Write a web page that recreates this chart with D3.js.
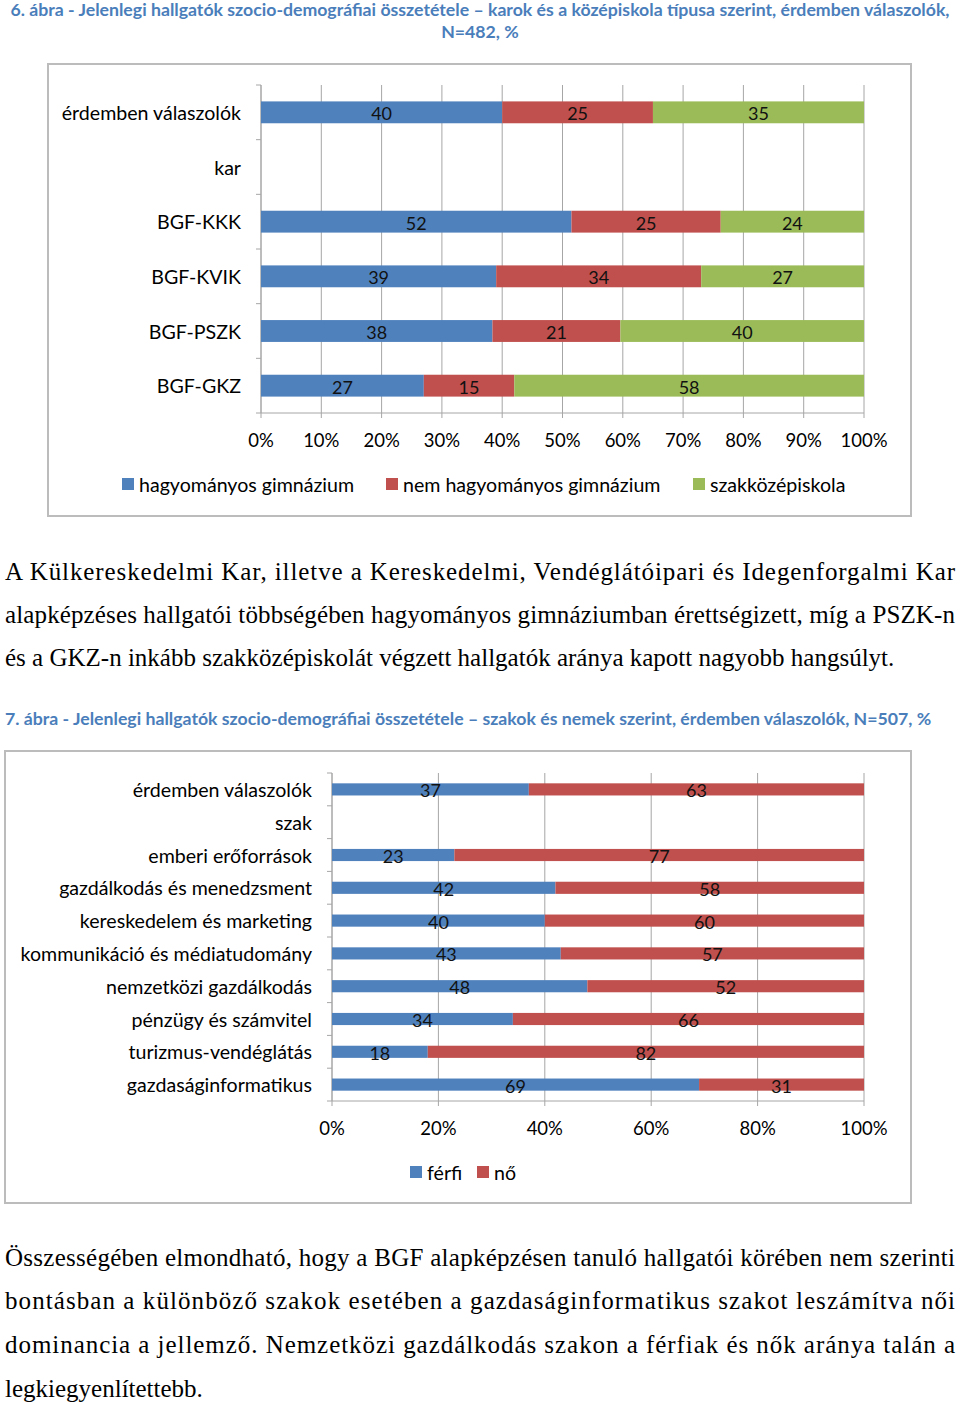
<!DOCTYPE html>
<html>
<head>
<meta charset="utf-8">
<script src="https://cdn.jsdelivr.net/npm/d3@7"></script>
<style>
  body { margin: 0; background: #fff; }
  svg { display: block; }
  .cat { font-family: Lato, "Open Sans", sans-serif; font-size: 19.6px; fill: #000; }
  .tick { font-family: Lato, "Open Sans", sans-serif; font-size: 18.5px; fill: #000; }
  .val { font-family: Lato, "Open Sans", sans-serif; font-size: 18px; fill: #111; }
  .title { font-family: Lato, "Open Sans", sans-serif; font-weight: bold; font-size: 17.7px; fill: #4A7EBB; }
  .body { font-family: "Liberation Serif", "Times New Roman", serif; font-size: 25px; fill: #000; }
</style>
</head>
<body>
<svg id="page" width="960" height="1403"></svg>
<script>
// --- chart 1 data ---
const facultyCats = ["érdemben válaszolók", "kar", "BGF-KKK", "BGF-KVIK", "BGF-PSZK", "BGF-GKZ"];
const hagyomanyos = [40, null, 52, 39, 38, 27];
const nemHagyomanyos = [25, null, 25, 34, 21, 15];
const szakkozep = [35, null, 24, 27, 40, 58];
const schoolSeries = ["hagyományos gimnázium", "nem hagyományos gimnázium", "szakközépiskola"];
const ticks1 = [0, 10, 20, 30, 40, 50, 60, 70, 80, 90, 100];

// --- chart 2 data ---
const majorCats = ["érdemben válaszolók", "szak", "emberi erőforrások", "gazdálkodás és menedzsment",
  "kereskedelem és marketing", "kommunikáció és médiatudomány", "nemzetközi gazdálkodás",
  "pénzügy és számvitel", "turizmus-vendéglátás", "gazdaságinformatikus"];
const ferfi = [37, null, 23, 42, 40, 43, 48, 34, 18, 69];
const no = [63, null, 77, 58, 60, 57, 52, 66, 82, 31];
const genderSeries = ["férfi", "nő"];
const ticks2 = [0, 20, 40, 60, 80, 100];

const colors = ["#4F81BD", "#C0504D", "#9BBB59"];
const gridColor = "#a6a6a6";

const svg = d3.select("#page");
svg.append("rect").attr("width", 960).attr("height", 1403).attr("fill", "#fff");

const drawChart = (cfg) => {
  const { cats, series, names, frame, x0, x1, yTop, yBottom, barFrac, ticks, tickY, labelX, legendY, legend } = cfg;

  svg.append("rect")
    .attr("x", frame[0]).attr("y", frame[1])
    .attr("width", frame[2] - frame[0]).attr("height", frame[3] - frame[1])
    .attr("fill", "#fff").attr("stroke", "#bcbcbc").attr("stroke-width", 2);

  const x = d3.scaleLinear().domain([0, 1]).range([x0, x1]);
  const inner = 1 - barFrac;
  const y = d3.scaleBand().domain(cats).range([yTop, yBottom]).paddingInner(inner).paddingOuter(inner / 2);
  const step = y.step();

  const rows = cats.map((c, i) => {
    const o = { cat: c };
    names.forEach((n, k) => { o[n] = series[k][i] == null ? 0 : series[k][i]; });
    return o;
  });
  const stacked = d3.stack().keys(names).offset(d3.stackOffsetExpand)(rows);

  const g = svg.append("g");

  // gridlines
  g.selectAll(".grid").data(ticks).enter().append("line")
    .attr("x1", (t) => x(t / 100)).attr("x2", (t) => x(t / 100))
    .attr("y1", yTop).attr("y2", yBottom + 5)
    .attr("stroke", gridColor).attr("stroke-width", 1);

  // bottom axis line
  g.append("line").attr("x1", x0).attr("x2", x1).attr("y1", yBottom).attr("y2", yBottom)
    .attr("stroke", gridColor).attr("stroke-width", 1);

  // left axis + ticks at band boundaries
  g.append("line").attr("x1", x0).attr("x2", x0).attr("y1", yTop).attr("y2", yBottom)
    .attr("stroke", gridColor).attr("stroke-width", 1);
  d3.range(cats.length + 1).forEach((i) => {
    g.append("line").attr("x1", x0 - 5).attr("x2", x0)
      .attr("y1", yTop + i * step).attr("y2", yTop + i * step)
      .attr("stroke", gridColor).attr("stroke-width", 1);
  });

  // bars
  stacked.forEach((layer, k) => {
    g.selectAll(null).data(layer.filter((d) => d.data[names[k]] > 0)).enter().append("rect")
      .attr("x", (d) => x(d[0])).attr("width", (d) => x(d[1]) - x(d[0]))
      .attr("y", (d) => y(d.data.cat)).attr("height", y.bandwidth())
      .attr("fill", colors[k]);
    g.selectAll(null).data(layer.filter((d) => d.data[names[k]] > 0)).enter().append("text")
      .attr("class", "val")
      .attr("x", (d) => (x(d[0]) + x(d[1])) / 2)
      .attr("y", (d) => y(d.data.cat) + y.bandwidth() / 2 + 1)
      .attr("text-anchor", "middle").attr("dominant-baseline", "central")
      .text((d) => d.data[names[k]]);
  });

  // category labels
  g.selectAll(".catl").data(cats).enter().append("text")
    .attr("class", "cat")
    .attr("x", labelX).attr("y", (c) => y(c) + y.bandwidth() / 2)
    .attr("text-anchor", "end").attr("dominant-baseline", "central")
    .text((c) => c);

  // tick labels
  g.selectAll(".tl").data(ticks).enter().append("text")
    .attr("class", "tick")
    .attr("x", (t) => x(t / 100)).attr("y", tickY)
    .attr("text-anchor", "middle").attr("dominant-baseline", "central")
    .text((t) => t + "%");

  // legend
  names.forEach((n, k) => {
    g.append("rect").attr("x", legend[k]).attr("y", legendY - 6).attr("width", 12).attr("height", 12)
      .attr("fill", colors[k]);
    g.append("text").attr("class", "cat")
      .attr("x", legend[k] + 17).attr("y", legendY)
      .attr("dominant-baseline", "central").text(n);
  });
};

// titles
svg.append("text").attr("class", "title").attr("x", 480).attr("y", 9).attr("text-anchor", "middle")
  .attr("dominant-baseline", "central")
  .text("6. ábra - Jelenlegi hallgatók szocio-demográfiai összetétele – karok és a középiskola típusa szerint, érdemben válaszolók,");
svg.append("text").attr("class", "title").attr("x", 480).attr("y", 31).attr("text-anchor", "middle")
  .attr("dominant-baseline", "central").text("N=482, %");

drawChart({
  cats: facultyCats, series: [hagyomanyos, nemHagyomanyos, szakkozep], names: schoolSeries,
  frame: [48, 64, 911, 516], x0: 261, x1: 864, yTop: 85, yBottom: 413, barFrac: 0.4,
  ticks: ticks1, tickY: 440, labelX: 241, legendY: 484, legend: [122, 386, 693]
});

// body paragraph 1
const para1 = [
  "A Külkereskedelmi Kar, illetve a Kereskedelmi, Vendéglátóipari és Idegenforgalmi Kar",
  "alapképzéses hallgatói többségében hagyományos gimnáziumban érettségizett, míg a PSZK-n",
  "és a GKZ-n inkább szakközépiskolát végzett hallgatók aránya kapott nagyobb hangsúlyt."
];
const para2 = [
  "Összességében elmondható, hogy a BGF alapképzésen tanuló hallgatói körében nem szerinti",
  "bontásban a különböző szakok esetében a gazdaságinformatikus szakot leszámítva női",
  "dominancia a jellemző. Nemzetközi gazdálkodás szakon a férfiak és nők aránya talán a",
  "legkiegyenlítettebb."
];
const drawPara = (lines, top, lh) => {
  lines.forEach((l, i) => {
    const t = svg.append("text").attr("class", "body").attr("x", 5).attr("y", top + i * lh)
      .attr("dominant-baseline", "central").text(l);
    if (i < lines.length - 1) t.attr("textLength", 950).attr("lengthAdjust", "spacing");
  });
};
drawPara(para1, 571, 43);

svg.append("text").attr("class", "title").attr("x", 5).attr("y", 718)
  .attr("dominant-baseline", "central")
  .text("7. ábra - Jelenlegi hallgatók szocio-demográfiai összetétele – szakok és nemek szerint, érdemben válaszolók, N=507, %");

drawChart({
  cats: majorCats, series: [ferfi, no], names: genderSeries,
  frame: [5, 751, 911, 1203], x0: 332, x1: 864, yTop: 773, yBottom: 1101, barFrac: 0.37,
  ticks: ticks2, tickY: 1128, labelX: 312, legendY: 1172, legend: [410, 477]
});

drawPara(para2, 1257, 43.7);
</script>
</body>
</html>
